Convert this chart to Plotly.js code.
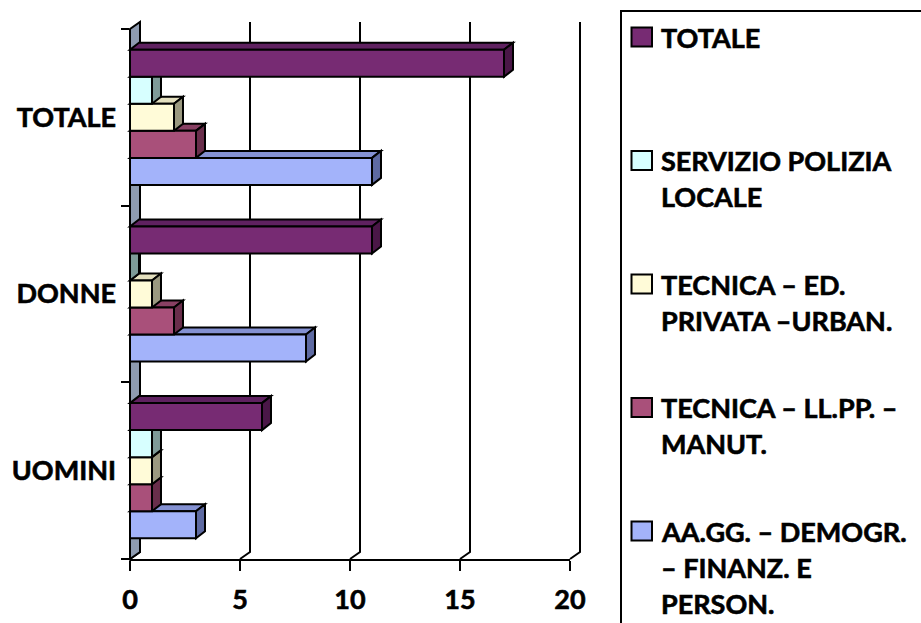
<!DOCTYPE html>
<html>
<head>
<meta charset="utf-8">
<script src="https://cdn.plot.ly/plotly-3.0.1.min.js"></script>
<style>
  html, body { margin: 0; padding: 0; background: #ffffff; }
  #chart { width: 921px; height: 623px; }
  /* heavier strokes for the bold labels */
  #chart svg text { stroke: #000000; stroke-width: 0.6px; }
</style>
</head>
<body>
<div id="chart"></div>
<script>
// Personale per servizio: uomini, donne, totale
const categories = ['UOMINI', 'DONNE', 'TOTALE'];

const aaggDemogrFinanz = [3, 8, 11];
const tecnicaLlppManut = [1, 2, 3];
const tecnicaEdPrivata = [1, 1, 2];
const poliziaLocale    = [1, 0, 1];
const totale           = [6, 11, 17];

const xTicks = [0, 5, 10, 15, 20];

// legend text, one entry per line
const labelAagg    = ['AA.GG. – DEMOGR.', '– FINANZ. E', 'PERSON.'];
const labelLlpp    = ['TECNICA – LL.PP. –', 'MANUT.'];
const labelEd      = ['TECNICA – ED.', 'PRIVATA –URBAN.'];
const labelPolizia = ['SERVIZIO POLIZIA', 'LOCALE'];
const labelTotale  = ['TOTALE'];

// drawing order: bottom bar of each group first
const series = [
  { values: aaggDemogrFinanz, lines: labelAagg,    front: '#A3B3FA', top: '#8491D2', side: '#5E6AA2' },
  { values: tecnicaLlppManut, lines: labelLlpp,    front: '#A9507A', top: '#884063', side: '#692E4B' },
  { values: tecnicaEdPrivata, lines: labelEd,      front: '#FFFBD8', top: '#E3DFBE', side: '#9B9980' },
  { values: poliziaLocale,    lines: labelPolizia, front: '#D7FFFF', top: '#B0D2D2', side: '#7E9B98' },
  { values: totale,           lines: labelTotale,  front: '#772B73', top: '#5F2160', side: '#4A1747' }
];

const W = 921, H = 623;
const M = { l: 130, r: 351, t: 29, b: 64 };
const PW = W - M.l - M.r;
const PH = H - M.t - M.b;
const XMAX = xTicks[xTicks.length - 1];
const NCAT = categories.length;

const BAR_W = 0.153;                 // one bar, in category units
const GROUP_W = BAR_W * series.length;
const DEPTH_BAR = { dx: 9, dy: 7 };  // receding faces of bars (px)
const DEPTH_WALL = { dx: 10, dy: 7 }; // back wall offset (px)

const FONT = 'Lato, "Open Sans", "DejaVu Sans", sans-serif';
const FONT_SIZE = 27;

// data value + pixel shift -> paper coordinates
function xp(v, dxPx) { return v / XMAX + (dxPx || 0) / PW; }
function yp(c, dyPx) { return (c + 0.5) / NCAT + (dyPx || 0) / PH; }
// figure pixel -> paper coordinates
function pxX(px) { return (px - M.l) / PW; }
function pxY(py) { return (H - M.b - py) / PH; }

function poly(pts) {
  return 'M ' + pts.map(p => p[0].toFixed(5) + ' ' + p[1].toFixed(5)).join(' L ') + ' Z';
}

const shapes = [];
const annotations = [];

// back wall grid lines, with the short receding stroke on the floor
xTicks.forEach(v => {
  shapes.push({
    type: 'path', xref: 'paper', yref: 'paper', layer: 'below',
    path: 'M ' + xp(v, 0) + ' ' + yp(-0.5, 0) +
          ' L ' + xp(v, DEPTH_WALL.dx) + ' ' + yp(-0.5, DEPTH_WALL.dy) +
          ' L ' + xp(v, DEPTH_WALL.dx) + ' ' + yp(NCAT - 0.5, DEPTH_WALL.dy),
    line: { color: '#000000', width: 2 }
  });
});

// left side wall
shapes.push({
  type: 'path', xref: 'paper', yref: 'paper', layer: 'below',
  path: poly([
    [xp(0, 0), yp(-0.5, 0)],
    [xp(0, 0), yp(NCAT - 0.5, 0)],
    [xp(0, DEPTH_WALL.dx), yp(NCAT - 0.5, DEPTH_WALL.dy)],
    [xp(0, DEPTH_WALL.dx), yp(-0.5, DEPTH_WALL.dy)]
  ]),
  fillcolor: '#8E9BB0',
  line: { color: '#000000', width: 2 }
});

// top and side faces of each bar
series.forEach((s, k) => {
  s.values.forEach((v, i) => {
    const yb = i - GROUP_W / 2 + k * BAR_W;
    const yt = yb + BAR_W;
    shapes.push({
      type: 'path', xref: 'paper', yref: 'paper', layer: 'below',
      path: poly([
        [xp(0, 0), yp(yt, 0)],
        [xp(v, 0), yp(yt, 0)],
        [xp(v, DEPTH_BAR.dx), yp(yt, DEPTH_BAR.dy)],
        [xp(0, DEPTH_BAR.dx), yp(yt, DEPTH_BAR.dy)]
      ]),
      fillcolor: s.top,
      line: { color: '#000000', width: 2 }
    });
    shapes.push({
      type: 'path', xref: 'paper', yref: 'paper', layer: 'below',
      path: poly([
        [xp(v, 0), yp(yb, 0)],
        [xp(v, 0), yp(yt, 0)],
        [xp(v, DEPTH_BAR.dx), yp(yt, DEPTH_BAR.dy)],
        [xp(v, DEPTH_BAR.dx), yp(yb, DEPTH_BAR.dy)]
      ]),
      fillcolor: s.side,
      line: { color: '#000000', width: 2 }
    });
  });
});

// front faces of the bars
const traces = series.map((s, k) => ({
  type: 'bar',
  orientation: 'h',
  name: s.lines.join(' '),
  y: categories,
  x: s.values,
  width: BAR_W,
  offset: -GROUP_W / 2 + k * BAR_W,
  marker: { color: s.front, line: { color: '#000000', width: 2 } },
  hoverinfo: 'skip',
  showlegend: false
}));

// legend frame
shapes.push({
  type: 'rect', xref: 'paper', yref: 'paper', layer: 'above',
  x0: pxX(621), x1: pxX(940), y0: pxY(11), y1: pxY(640),
  fillcolor: 'rgba(0,0,0,0)',
  line: { color: '#000000', width: 2 }
});

// legend entries, TOTALE first
const LEG_FIRST_Y = 37, LEG_STEP = 123.5, LEG_LINE = 36;
series.slice().reverse().forEach((s, j) => {
  const y0 = LEG_FIRST_Y + j * LEG_STEP;
  shapes.push({
    type: 'rect', xref: 'paper', yref: 'paper', layer: 'above',
    x0: pxX(631.5), x1: pxX(652), y0: pxY(y0 - 9.5), y1: pxY(y0 + 9.5),
    fillcolor: s.front,
    line: { color: '#000000', width: 2 }
  });
  s.lines.forEach((line, n) => {
    annotations.push({
      xref: 'paper', yref: 'paper',
      x: pxX(659), y: pxY(y0 + n * LEG_LINE),
      xanchor: 'left', yanchor: 'middle',
      text: line, showarrow: false,
      font: { family: FONT, size: FONT_SIZE, color: '#000000', weight: 'bold' }
    });
  });
});

const layout = {
  width: W, height: H,
  margin: M,
  paper_bgcolor: '#ffffff',
  plot_bgcolor: 'rgba(0,0,0,0)',
  barmode: 'overlay',
  showlegend: false,
  font: { family: FONT, size: FONT_SIZE, color: '#000000', weight: 'bold' },
  xaxis: {
    range: [0, XMAX],
    tickvals: xTicks,
    ticktext: xTicks.map(String),
    showgrid: false, zeroline: false,
    showline: true, linecolor: '#000000', linewidth: 2,
    ticks: 'outside', ticklen: 10, tickwidth: 2, tickcolor: '#000000',
    ticklabelstandoff: 6,
    tickfont: { family: FONT, size: FONT_SIZE, color: '#000000', weight: 'bold' },
    fixedrange: true
  },
  yaxis: {
    type: 'category',
    categoryorder: 'array', categoryarray: categories,
    range: [-0.5, NCAT - 0.5],
    showgrid: false, zeroline: false, showline: false,
    ticks: 'outside', tickson: 'boundaries', ticklen: 8, tickwidth: 2, tickcolor: '#000000',
    ticklabelstandoff: 13,
    tickfont: { family: FONT, size: FONT_SIZE, color: '#000000', weight: 'bold' },
    fixedrange: true
  },
  shapes: shapes,
  annotations: annotations
};

Plotly.newPlot('chart', traces, layout, { staticPlot: true, displayModeBar: false });
</script>
</body>
</html>
